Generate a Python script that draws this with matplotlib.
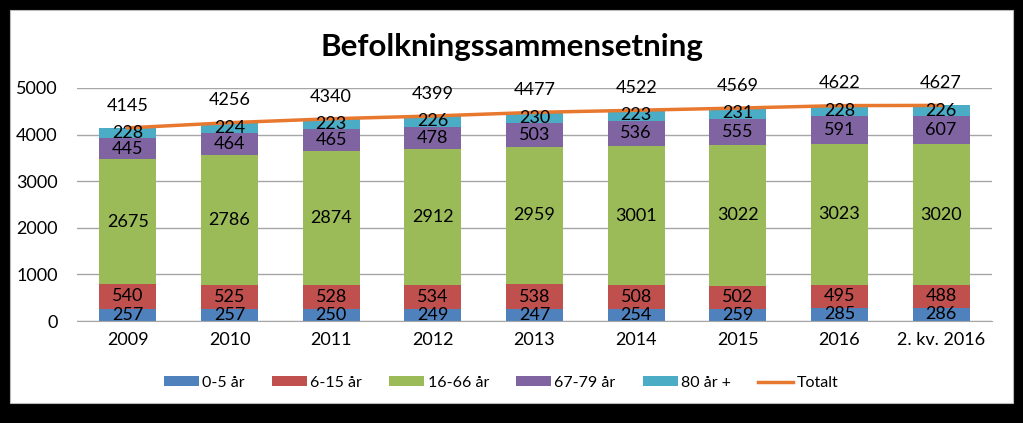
import matplotlib
matplotlib.use("Agg")
import matplotlib.pyplot as plt
from matplotlib.patches import Rectangle
import numpy as np

categories = ["2009", "2010", "2011", "2012", "2013", "2014", "2015", "2016", "2. kv. 2016"]
age_0_5 = [257, 257, 250, 249, 247, 254, 259, 285, 286]
age_6_15 = [540, 525, 528, 534, 538, 508, 502, 495, 488]
age_16_66 = [2675, 2786, 2874, 2912, 2959, 3001, 3022, 3023, 3020]
age_67_79 = [445, 464, 465, 478, 503, 536, 555, 591, 607]
age_80 = [228, 224, 223, 226, 230, 223, 231, 228, 226]
totalt = [4145, 4256, 4340, 4399, 4477, 4522, 4569, 4622, 4627]
series_names = ["0-5 år", "6-15 år", "16-66 år", "67-79 år", "80 år +"]
colors = ["#4F81BD", "#C0504D", "#9BBB59", "#8064A2", "#4BACC6"]

plt.rcParams['font.family'] = ['Lato', 'DejaVu Sans']

W, H = 1023, 423
fig = plt.figure(figsize=(W / 100, H / 100), dpi=100, facecolor="black")
fig.patches.append(Rectangle((10 / W, 1 - 403 / H), (1013 - 10) / W, (403 - 10) / H,
                             transform=fig.transFigure, facecolor="white",
                             edgecolor="#bbbbbb", lw=0.8, zorder=-10))

ax = fig.add_axes([77 / W, 1 - 321 / H, (992 - 77) / W, (321 - 88) / H])
ax.set_facecolor("none")
x = np.arange(len(categories))
bottom = np.zeros(len(categories))
data = [age_0_5, age_6_15, age_16_66, age_67_79, age_80]
handles = []
for vals, name, c in zip(data, series_names, colors):
    bars = ax.bar(x, vals, 0.56, bottom=bottom, color=c, label=name, zorder=2)
    texts = ax.bar_label(bars, labels=[str(v) for v in vals], label_type="center",
                         fontsize=13, color="black")
    for t in texts:
        t.set_zorder(5)
    bottom += np.array(vals)
    handles.append(bars)

line, = ax.plot(x, totalt, color="#E8782E", lw=2.5, label="Totalt", zorder=3)
for xi, t in zip(x, totalt):
    ax.annotate(str(t), (xi, t), xytext=(0, 16), textcoords="offset points",
                ha="center", va="center", fontsize=13, zorder=5)

ax.set_xlim(-0.5, len(categories) - 0.5)
ax.set_ylim(0, 5000)
ax.set_yticks(range(0, 5001, 1000))
ax.yaxis.grid(True, color="#a6a6a6", lw=1, zorder=0)
ax.set_axisbelow(True)
for s in ["top", "right", "left"]:
    ax.spines[s].set_visible(False)
ax.spines["bottom"].set_color("#a6a6a6")
ax.tick_params(axis="both", length=0, labelsize=13, pad=8)
ax.tick_params(axis="y", pad=14)
ax.set_xticks(x)
ax.set_xticklabels(categories)

fig.text(512 / W, 1 - 47 / H, "Befolkningssammensetning", ha="center", va="center",
         fontsize=22.5, fontweight="bold")

fig.legend(handles=handles + [line], labels=series_names + ["Totalt"],
           loc="center", bbox_to_anchor=(501 / W, 1 - 383 / H), ncol=6,
           frameon=False, fontsize=11.5, handlelength=2.2, handleheight=0.6,
           columnspacing=1.7, handletextpad=0.2)

fig.savefig("out.png", dpi=100, facecolor="black")
